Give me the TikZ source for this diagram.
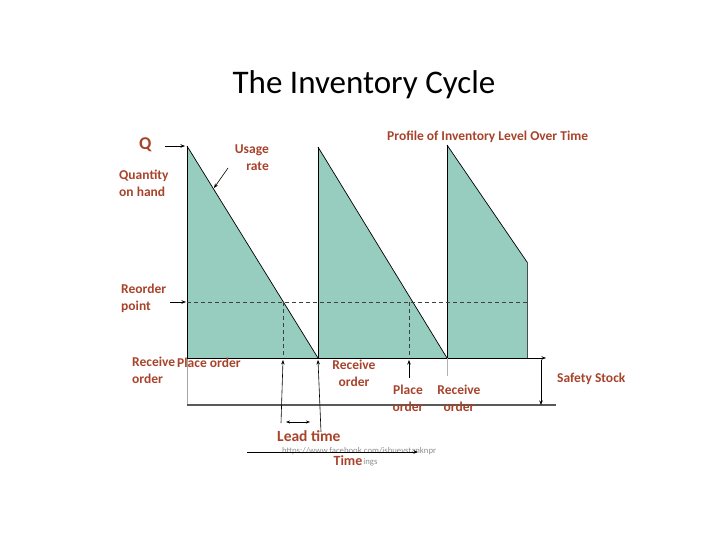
\documentclass[tikz,border=0pt]{standalone}
\usepackage{fontspec}
\setmainfont{Carlito}
\usetikzlibrary{arrows.meta}
\definecolor{lab}{HTML}{A8432B}
\definecolor{invfill}{HTML}{96CDBF}
\tikzset{
  lbl/.style={text=lab, font=\bfseries\fontsize{13.5}{17}\selectfont, inner sep=0pt},
  arr/.style={-{Stealth[length=4.5pt,width=3.5pt]}, line width=0.6pt},
  edgeline/.style={line width=0.7pt, black},
  dashline/.style={dash pattern=on 4pt off 3pt, line width=0.6pt, black!75},
  wm/.style={text=black!45, font=\fontsize{8.7}{10}\selectfont, inner sep=0pt}
}
\begin{document}
\begin{tikzpicture}[x=1pt,y=-1pt]
\useasboundingbox (0,0) rectangle (720,540);
% key points
\coordinate (t1) at (187,146);
\coordinate (b1) at (318,358);
\coordinate (t2) at (318,147);
\coordinate (b2) at (447,358);
\coordinate (t3) at (447,145);
\coordinate (r3) at (527,262);
\coordinate (b3) at (527,358);
\coordinate (o1) at (187,358);
\coordinate (o0) at (187,405);
\coordinate (ssend) at (546,358);
\coordinate (botend) at (556,405);
\coordinate (rp0) at (187,302);
\coordinate (rp1) at (527,302);
\coordinate (x1) at (283,302);
\coordinate (x1b) at (283,358);
\coordinate (x2) at (409,302);
\coordinate (x2b) at (409,358);
% fills
\fill[invfill] (t1) -- (b1) -- (o1) -- cycle;
\fill[invfill] (t2) -- (b2) -- (b1) -- cycle;
\fill[invfill] (t3) -- (r3) -- (b3) -- (b2) -- cycle;
% edges
\draw[edgeline] (t1) -- (o1);
\draw[black!35, line width=0.6pt] (o1) -- (o0);
\draw[edgeline] (t1) -- (b1);
\draw[edgeline] (t2) -- (b1);
\draw[edgeline] (t2) -- (b2);
\draw[edgeline] (t3) -- (b2);
\draw[edgeline] (t3) -- (r3);
\draw[black!70, line width=0.7pt] (r3) -- (b3);
\draw[black!65, line width=1.2pt] (o0) -- (botend);
\draw[arr] (o1) -- (ssend);
% reorder dashed
\draw[dashline] (rp0) -- (rp1);
\draw[dashline] (x1) -- (x1b);
\draw[dashline] (x2) -- (x2b);
% title
\node[font=\fontsize{33}{36}\selectfont, inner sep=0pt] (title) at (364,85) {The Inventory Cycle};
% labels
\node[lbl, font=\bfseries\fontsize{18}{20}\selectfont, anchor=base west] (q) at (139,150) {Q};
\node[lbl, align=right, anchor=north east] (usage) at (269,145) {Usage\\rate};
\node[lbl, align=left, anchor=north west] (qoh) at (119,170) {Quantity\\on hand};
\node[lbl, align=left, anchor=north west] (rop) at (121,284) {Reorder\\point};
\node[lbl, align=left, anchor=north west] (rec1) at (132,357) {Receive\\order};
\node[lbl, anchor=base west] (po1) at (177,367) {Place order};
\node[lbl, align=center, anchor=north] (rec2) at (354,360) {Receive\\order};
\node[lbl, align=center, anchor=north] (po2) at (408,385) {Place\\order};
\node[lbl, align=center, anchor=north] (rec3) at (459,385) {Receive\\order};
\node[lbl, anchor=west] (ss) at (557,379) {Safety Stock};
\node[lbl, anchor=west] (prof) at (387,137) {Profile of Inventory Level Over Time};
\node[lbl, font=\bfseries\fontsize{15.5}{17}\selectfont, anchor=west] (lt) at (277,436) {Lead time};
\node[wm, anchor=west] (wm1) at (282,451) {https://www.facebook.com/ishuevstanknpr};
\node[wm, anchor=west] (wm2) at (350,462) {\phantom{Tim}ings};
\node[lbl, font=\bfseries\fontsize{14}{16}\selectfont, anchor=center] (time) at (348,461) {Time};
% anchors for arrows
\coordinate (qa) at (165,146);
\coordinate (qb) at (185,146);
\coordinate (ra) at (170,302);
\coordinate (rb) at (186,302);
\coordinate (ua) at (228,168);
\coordinate (ub) at (214,188);
\coordinate (la) at (281,423);
\coordinate (lb) at (283,360);
\coordinate (lc) at (321,432);
\coordinate (ld) at (318,360);
\coordinate (lt1) at (286,422);
\coordinate (lt2) at (310,422);
\coordinate (pa) at (409,378);
\coordinate (pb) at (409,360);
\coordinate (rca) at (447,376);
\coordinate (sa) at (541,360);
\coordinate (sb) at (541,405);
\coordinate (ta) at (247,452);
\coordinate (tb) at (418,452);
% arrows
\draw[arr] (qa) -- (qb);
\draw[arr] (ra) -- (rb);
\draw[arr] (ua) -- (ub);
\draw[arr] (la) -- (lb);
\draw[arr] (lc) -- (ld);
\draw[{Stealth[length=4pt,width=3pt]}-{Stealth[length=4pt,width=3pt]}, line width=0.6pt] (lt1) -- (lt2);
\draw[arr] (pa) -- (pb);
\draw[black!30, line width=0.6pt] (b2) -- (rca);
\draw[arr] (sa) -- (sb);
\draw[arr] (ta) -- (tb);
\end{tikzpicture}
\end{document}
